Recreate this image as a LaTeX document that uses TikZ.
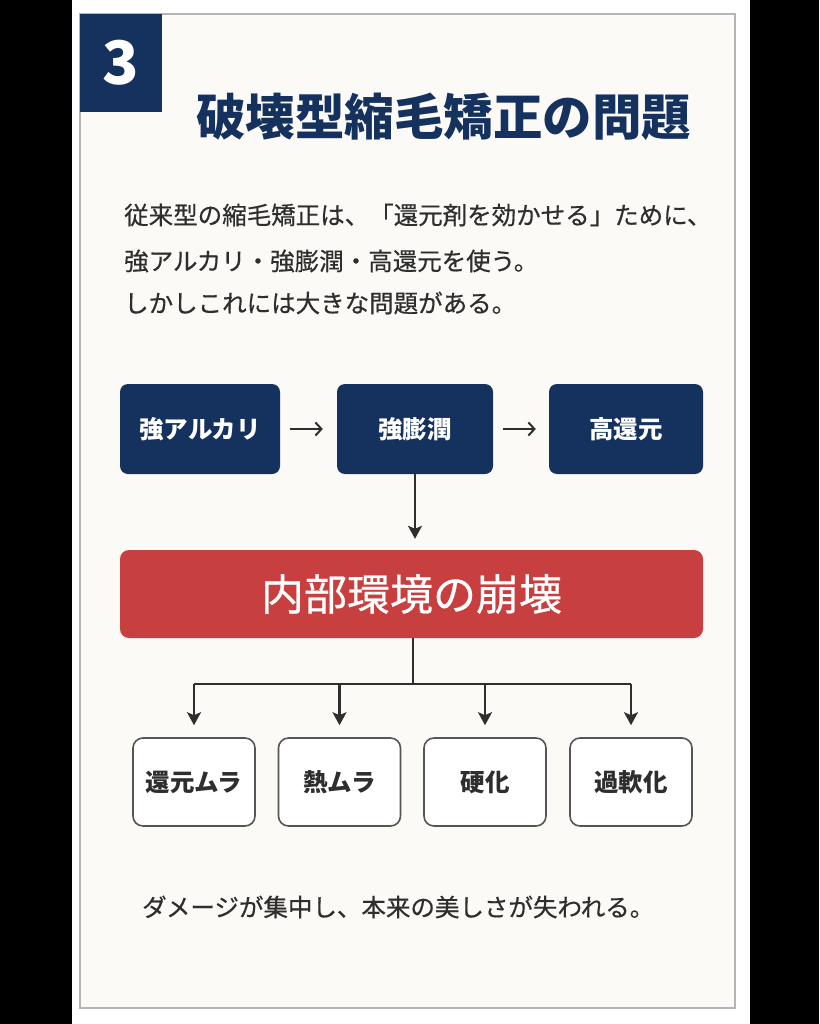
\documentclass[tikz,border=0pt]{standalone}
\usepackage{fontspec}
\setmainfont{Noto Sans CJK JP}
\newfontfamily\medfont{Noto Sans CJK JP}[FakeBold=0.5]
\usetikzlibrary{arrows.meta}
\definecolor{navy}{HTML}{15325E}
\definecolor{redbox}{HTML}{C7403F}
\definecolor{cardbg}{HTML}{FCFAF7}
\definecolor{txt}{HTML}{2E2E2E}
\definecolor{cardline}{HTML}{B5B5B5}
\definecolor{boxline}{HTML}{555555}
\tikzset{
  topbox/.style={fill=navy, rounded corners=8pt, minimum height=90pt, inner sep=0pt,
    text=white, font=\fontsize{24.5}{26}\selectfont\bfseries},
  redbig/.style={fill=redbox, rounded corners=9pt, minimum width=583pt, minimum height=88pt,
    inner sep=0pt, text=white, font=\fontsize{43}{46}\selectfont\medfont},
  effbox/.style={draw=boxline, line width=1.6pt, fill=white, rounded corners=10pt,
    minimum width=122pt, minimum height=88pt, inner sep=0pt, text=txt,
    font=\fontsize{24.5}{26}\selectfont\bfseries},
  introtext/.style={anchor=west, text=txt, inner sep=0pt, font=\fontsize{24.5}{26}\selectfont\medfont},
  arr/.style={draw=txt, line width=2.2pt, -{Stealth[length=13pt,width=14pt,inset=3pt]}},
  harr/.style={draw=txt, line width=2pt, -{Straight Barb[length=6pt,width=13pt]}},
  conn/.style={draw=txt, line width=2.2pt}
}
\begin{document}
\begin{tikzpicture}[x=1pt,y=-1pt]
\useasboundingbox (0,0) rectangle (819,1024);
\fill[black] (0,0) rectangle (819,1024);
\fill[white] (72,0) rectangle (750,1024);
\draw[cardline, line width=1.3pt, fill=cardbg] (80,14) rectangle (735,1008);
% number badge
\node[fill=navy, minimum width=82pt, minimum height=98pt, inner sep=0pt, text=white,
  font=\fontsize{60}{60}\selectfont\bfseries] (num) at (121,63) {3};
% title
\node[anchor=west, inner sep=0pt, text=navy, font=\fontsize{49.5}{52}\selectfont\bfseries] (title) at (196,117) {破壊型縮毛矯正の問題};
% intro
\node[introtext] (l1) at (124,215) {従来型の縮毛矯正は、「還元剤を効かせる」ために、};
\node[introtext] (l2) at (124,261) {強アルカリ・強膨潤・高還元を使う。};
\node[introtext] (l3) at (124,303) {しかしこれには大きな問題がある。};
% top row
\node[topbox, minimum width=160pt] (b1) at (200,429) {強アルカリ};
\node[topbox, minimum width=156pt] (b2) at (415,429) {強膨潤};
\node[topbox, minimum width=154pt] (b3) at (626,429) {高還元};
\draw[harr, shorten <=10pt, shorten >=14pt] (b1) -- (b2);
\draw[harr, shorten <=10pt, shorten >=13pt] (b2) -- (b3);
% red box
\node[redbig] (red) at (411.5,594) {内部環境の崩壊};
\draw[arr, shorten >=11pt] (b2.south) -- (b2.south |- red.north);
% effects
\node[effbox] (e1) at (194,782) {還元ムラ};
\node[effbox] (e2) at (339.5,782) {熱ムラ};
\node[effbox] (e3) at (485,782) {硬化};
\node[effbox] (e4) at (631,782) {過軟化};
\coordinate (j) at (413,684);
\draw[conn] (red.south -| j) -- (j);
\draw[conn] (j -| e1) -- (j -| e4);
\draw[arr, shorten >=12pt] (j -| e1) -- (e1.north);
\draw[arr, shorten >=12pt] (j -| e2) -- (e2.north);
\draw[arr, shorten >=12pt] (j -| e3) -- (e3.north);
\draw[arr, shorten >=12pt] (j -| e4) -- (e4.north);
% footer
\node[anchor=west, inner sep=0pt, text=txt, font=\fontsize{24.5}{26}\selectfont\medfont] (foot) at (142,907) {ダメージが集中し、本来の美しさが失われる。};
\end{tikzpicture}
\end{document}
